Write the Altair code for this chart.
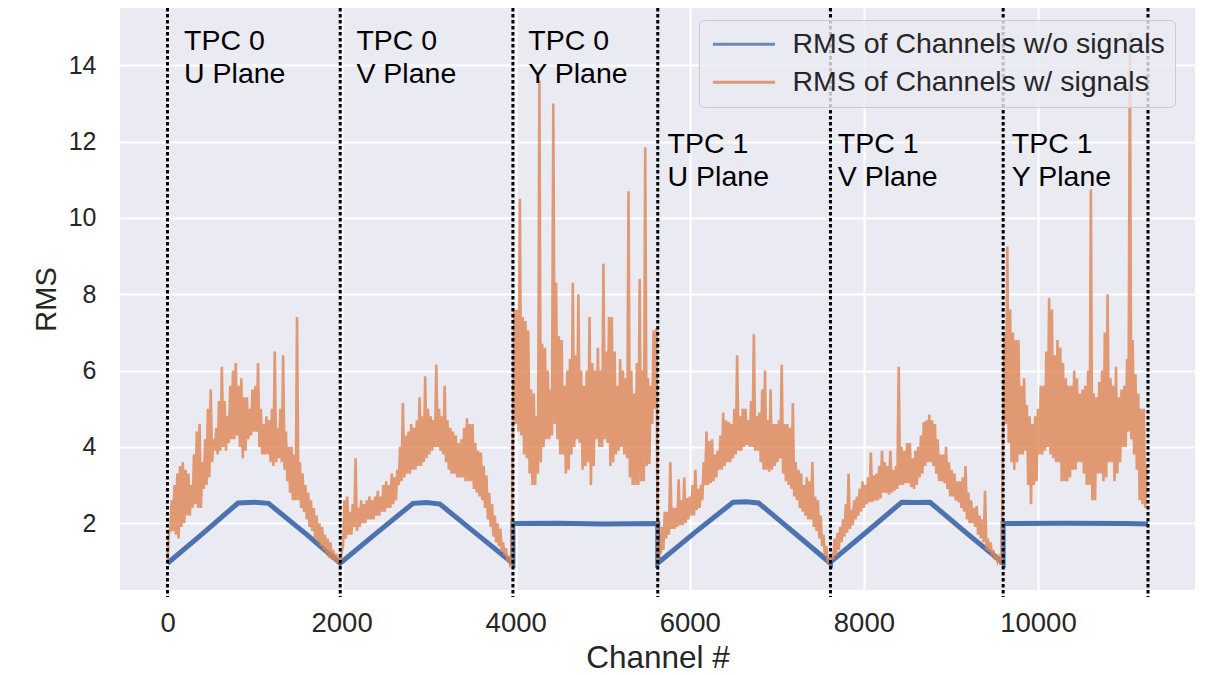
import altair as alt
import pandas as pd

# ---------------- data ----------------
BOUNDS = [0, 1984, 3968, 5632, 7616, 9600, 11264]
TICKS_X = [0, 2000, 4000, 6000, 8000, 10000]
TICKS_Y = [2, 4, 6, 8, 10, 12, 14]

W_O = "RMS of Channels w/o signals"
W = "RMS of Channels w/ signals"

# channels without signals (blue) : vertices
BLUE_CH = [0, 400, 810, 1000, 1160, 1600, 1984,
           1984, 2400, 2820, 2980, 3130, 3550, 3968,
           3968, 4500, 5000, 5632,
           5632, 6060, 6497, 6650, 6790, 7200, 7616,
           7616, 8030, 8434, 8600, 8760, 9180, 9600,
           9600, 10300, 11000, 11264]
BLUE_RMS = [0.95, 1.72, 2.53, 2.55, 2.52, 1.70, 0.95,
            0.95, 1.74, 2.52, 2.54, 2.50, 1.72, 0.95,
            1.99, 2.00, 1.98, 1.99,
            0.95, 1.76, 2.55, 2.56, 2.53, 1.75, 0.95,
            0.98, 1.77, 2.55, 2.54, 2.55, 1.74, 0.95,
            1.99, 2.00, 1.99, 1.98]

# channels with signals (orange): lower / upper envelope per 32-channel bin
T0U_LO = [0.96, 1.8, 1.8, 1.7, 1.6, 1.9, 2.0, 2.2, 2.2, 2.4, 2.5, 2.4, 2.4, 2.9, 3.0, 3.2,
          3.6, 3.9, 3.8, 3.9, 4.0, 3.9, 4.1, 4.2, 4.2, 4.3, 4.0, 3.7, 3.9, 4.2, 4.3, 4.4,
          4.4, 4.0, 3.8, 3.8, 3.8, 3.6, 3.5, 3.6, 3.7, 3.6, 3.4, 3.1, 2.8, 2.6, 2.6, 2.6,
          2.4, 2.3, 2.1, 1.9, 1.8, 1.6, 1.5, 1.4, 1.3, 1.2, 1.1, 1.05, 1.0, 0.95]
T0U_HI = [1.8, 2.6, 3.0, 3.3, 3.5, 3.6, 3.4, 3.3, 3.0, 3.8, 4.4, 4.6, 3.6, 4.2, 5.0, 5.5,
          4.2, 4.5, 5.2, 6.1, 5.2, 4.8, 5.6, 6.0, 6.2, 5.6, 5.8, 5.3, 5.3, 5.0, 5.5, 5.6,
          6.2, 5.0, 4.6, 4.8, 4.7, 5.0, 6.5, 4.5, 5.0, 6.4, 4.4, 4.0, 4.0, 3.8, 7.4, 3.6,
          3.3, 3.0, 2.8, 2.6, 2.4, 2.2, 2.0, 1.9, 1.7, 1.6, 1.5, 1.3, 1.2, 1.1]
T0V_LO = [0.95, 1.4, 1.6, 1.7, 1.7, 1.9, 1.8, 1.9, 2.0, 2.0, 2.1, 2.1, 2.1, 2.2, 2.2, 2.3,
          2.3, 2.4, 2.4, 2.5, 2.6, 3.0, 3.1, 3.2, 3.3, 3.3, 3.4, 3.4, 3.5, 3.5, 3.6, 3.7,
          3.8, 3.9, 4.0, 4.0, 3.9, 3.8, 3.6, 3.4, 3.3, 3.3, 3.2, 3.2, 3.2, 3.1, 3.1, 3.1,
          2.9, 2.8, 2.7, 2.6, 2.4, 2.1, 1.9, 1.65, 1.5, 1.4, 1.25, 1.15, 1.0, 0.92]
T0V_HI = [1.2, 2.6, 2.7, 2.3, 2.5, 3.7, 2.4, 2.6, 2.5, 2.6, 2.7, 2.6, 2.7, 2.85, 2.7, 3.0,
          3.1, 3.0, 3.3, 3.2, 3.4, 4.0, 5.15, 4.3, 4.4, 4.6, 4.5, 4.7, 5.3, 4.8, 5.85, 5.0,
          4.8, 4.7, 6.15, 5.0, 4.8, 5.6, 4.7, 4.5, 4.4, 4.3, 4.1, 4.2, 4.5, 4.75, 4.6, 4.6,
          4.1, 3.9, 3.85, 3.5, 3.25, 2.8, 2.5, 2.2, 2.0, 1.85, 1.5, 1.35, 1.15, 1.0]
T0Y_LO = [4.6, 4.6, 4.4, 4.3, 3.8, 3.7, 3.3, 3.0, 3.0, 3.3, 3.6, 4.0, 4.2, 4.2, 4.3, 4.6,
          4.2, 3.8, 3.8, 3.3, 3.4, 3.8, 4.0, 4.2, 4.1, 3.4, 3.5, 3.6, 3.0, 3.5, 4.2, 4.0,
          4.0, 4.2, 4.1, 3.5, 3.6, 3.8, 3.9, 4.0, 3.8, 3.7, 3.2, 3.0, 3.0, 3.0, 3.1, 3.1,
          3.5, 3.55, 4.6, 5.0]
T0Y_HI = [7.6, 7.6, 10.5, 7.4, 7.3, 7.05, 5.5, 5.4, 4.8, 13.6, 6.7, 6.6, 6.0, 5.5, 13.0, 8.3,
          6.9, 6.8, 5.6, 6.0, 6.3, 8.3, 6.4, 8.0, 6.0, 5.6, 6.0, 7.4, 6.2, 6.0, 6.6, 6.0,
          8.8, 6.5, 7.4, 7.4, 6.5, 5.6, 6.3, 6.0, 5.8, 10.7, 6.0, 5.4, 6.2, 8.4, 6.0, 11.85,
          5.8, 5.6, 7.05, 7.1]
T1U_LO = [0.95, 1.2, 1.3, 1.6, 1.7, 1.85, 1.85, 1.9, 1.95, 1.95, 2.0, 2.1, 2.2, 2.2, 2.35, 2.4,
          2.6, 3.0, 3.0, 3.05, 3.1, 3.2, 3.4, 3.4, 3.5, 3.6, 3.6, 3.7, 3.8, 3.9, 3.9, 4.0,
          4.05, 4.0, 4.0, 3.9, 3.9, 3.6, 3.4, 3.4, 3.35, 3.4, 3.5, 3.6, 3.7, 3.3, 3.1, 3.0,
          2.9, 2.7, 2.6, 2.4, 2.3, 2.2, 2.1, 2.1, 1.9, 1.8, 1.6, 1.4, 1.15, 0.95]
T1U_HI = [1.5, 1.9, 2.3, 2.3, 3.6, 2.4, 2.4, 3.15, 2.6, 3.2, 2.65, 2.7, 3.0, 3.4, 2.9, 3.0,
          3.6, 4.4, 4.15, 4.2, 3.8, 3.9, 4.3, 4.9, 4.7, 4.65, 4.6, 5.0, 6.4, 4.8, 5.0, 5.0,
          4.7, 5.2, 6.95, 4.8, 4.9, 5.5, 6.0, 4.7, 5.5, 4.6, 4.6, 4.7, 6.15, 4.6, 4.6, 4.5,
          5.15, 3.6, 3.4, 3.3, 3.0, 3.2, 3.1, 3.6, 2.7, 2.6, 2.2, 1.7, 1.4, 1.1]
T1V_LO = [0.95, 1.05, 1.15, 1.3, 1.5, 1.65, 1.75, 1.85, 1.95, 2.1, 2.2, 2.3, 2.4, 2.5, 2.55, 2.55,
          2.6, 2.6, 2.65, 2.8, 2.8, 2.75, 2.8, 2.85, 2.9, 3.0, 3.0, 3.05, 3.05, 2.95, 2.9, 3.0,
          3.2, 3.3, 3.5, 3.6, 3.6, 3.5, 3.3, 3.1, 3.1, 3.05, 2.9, 2.7, 2.7, 2.6, 2.55, 2.4,
          2.3, 2.1, 2.0, 2.0, 1.9, 1.7, 1.6, 1.5, 1.3, 1.25, 1.15, 1.05, 1.0, 0.95]
T1V_HI = [1.2, 1.6, 1.75, 1.9, 2.1, 2.5, 3.3, 2.35, 2.6, 2.7, 2.9, 3.1, 3.0, 3.2, 3.85, 3.25,
          3.3, 3.5, 3.9, 3.6, 3.5, 3.9, 3.4, 3.5, 6.1, 4.0, 3.9, 4.1, 4.1, 3.7, 3.9, 4.0,
          4.3, 4.65, 4.7, 4.85, 4.7, 4.6, 4.2, 3.8, 3.8, 4.0, 3.6, 3.4, 3.3, 3.1, 3.1, 3.2,
          3.5, 2.8, 2.6, 2.4, 2.45, 2.2, 2.1, 2.85, 1.6, 1.5, 1.3, 1.2, 1.1, 1.0]
T1Y_LO = [4.6, 4.6, 4.1, 3.6, 3.4, 3.6, 3.8, 3.8, 3.9, 3.0, 2.5, 3.0, 3.1, 3.8, 3.8, 3.9,
          4.0, 3.8, 3.7, 3.6, 3.6, 3.1, 3.1, 3.1, 3.2, 3.4, 3.4, 3.6, 3.6, 3.3, 3.0, 3.0,
          2.6, 2.6, 3.3, 3.3, 3.1, 3.2, 3.6, 3.6, 3.1, 3.3, 3.6, 4.0, 4.0, 4.4, 4.2, 3.8,
          3.4, 2.6, 2.5, 2.4]
T1Y_HI = [7.0, 9.25, 7.6, 7.0, 6.8, 6.8, 5.6, 5.8, 5.1, 4.8, 4.6, 4.8, 5.0, 5.6, 5.6, 6.5,
          7.9, 7.6, 6.4, 6.8, 6.6, 6.2, 5.8, 5.6, 5.6, 6.0, 5.8, 5.4, 5.5, 5.6, 6.0, 10.75,
          5.4, 5.3, 5.7, 6.0, 7.0, 8.0, 5.8, 5.6, 6.1, 5.3, 5.5, 5.6, 6.3, 14.85, 6.8, 5.9,
          5.4, 5.0, 5.0, 3.5]

SEGMENTS = [(T0U_LO, T0U_HI), (T0V_LO, T0V_HI), (T0Y_LO, T0Y_HI),
            (T1U_LO, T1U_HI), (T1V_LO, T1V_HI), (T1Y_LO, T1Y_HI)]

LABEL_X = [190, 2170, 4145, 5745, 7700, 9700]
LABEL_Y = [15.0, 15.0, 15.0, 12.3, 12.3, 12.3]
LABEL_TEXT = ["TPC 0\nU Plane", "TPC 0\nV Plane", "TPC 0\nY Plane",
              "TPC 1\nU Plane", "TPC 1\nV Plane", "TPC 1\nY Plane"]

# ---------------- tables ----------------
blue_df = pd.DataFrame({"channel": BLUE_CH, "rms": BLUE_RMS,
                        "series": W_O, "idx": range(len(BLUE_CH))})

rows = []
k = 0
for s, (lo, hi) in enumerate(SEGMENTS):
    start = BOUNDS[s]
    step = (BOUNDS[s + 1] - start) / len(lo)
    for i in range(len(lo)):
        rows.append({"channel": start + i * step, "rms": lo[i], "series": W, "idx": k}); k += 1
        rows.append({"channel": start + i * step + step / 2, "rms": hi[i], "series": W, "idx": k}); k += 1
orange_df = pd.DataFrame(rows)

bounds_df = pd.DataFrame({"channel": BOUNDS})
labels_df = pd.DataFrame({"x": LABEL_X, "y": LABEL_Y, "text": LABEL_TEXT})

FONT = "Liberation Sans"
xscale = alt.Scale(domain=[-546, 11804], nice=False, zero=False)
yscale = alt.Scale(domain=[0.25, 15.5], nice=False, zero=False)
cscale = alt.Scale(domain=[W_O, W], range=["#4C72B0", "#DD8452"])

xaxis = alt.Axis(values=TICKS_X, format="d", title="Channel #", labelFontSize=27.5,
                 titleFontSize=31.5, labelPadding=19, titlePadding=6, ticks=False,
                 domain=False, gridColor="white", gridWidth=2, labelFont=FONT,
                 titleFont=FONT, labelColor="#262626", titleColor="#262626",
                 titleFontWeight="normal")
yaxis = alt.Axis(values=TICKS_Y, title="RMS", labelFontSize=25, titleFontSize=29,
                 labelPadding=24, titlePadding=7, ticks=False, domain=False,
                 gridColor="white", gridWidth=2, labelFont=FONT, titleFont=FONT,
                 labelColor="#262626", titleColor="#262626", titleFontWeight="normal")

legend = alt.Legend(title=None, orient="none", legendX=579, legendY=12,
                    symbolType="M-1,0H5", symbolSize=428, symbolStrokeWidth=3,
                    labelFontSize=28.5, labelFont=FONT, labelColor="#262626",
                    labelOffset=55, labelLimit=0, fillColor="rgba(234,234,242,0.8)",
                    strokeColor="#CCCCCC", cornerRadius=5, padding=10, rowPadding=9)

blue = alt.Chart(blue_df).mark_line(strokeWidth=5).encode(
    x=alt.X("channel:Q", scale=xscale, axis=xaxis),
    y=alt.Y("rms:Q", scale=yscale, axis=yaxis),
    color=alt.Color("series:N", scale=cscale, legend=legend),
    order="idx:Q",
)
orange = alt.Chart(orange_df).mark_line(strokeWidth=2.6, opacity=0.8).encode(
    x=alt.X("channel:Q", scale=xscale),
    y=alt.Y("rms:Q", scale=yscale),
    color=alt.Color("series:N", scale=cscale, legend=legend),
    order="idx:Q",
)
rules = alt.Chart(bounds_df).mark_rule(color="black", strokeWidth=3,
                                       strokeDash=[3.5, 2.5]).encode(
    x=alt.X("channel:Q", scale=xscale),
    y=alt.value(0), y2=alt.value(589),
)
texts = alt.Chart(labels_df).mark_text(align="left", baseline="top", fontSize=28.5,
                                       font=FONT, color="black", lineBreak="\n",
                                       lineHeight=33).encode(
    x=alt.X("x:Q", scale=xscale),
    y=alt.Y("y:Q", scale=yscale),
    text="text:N",
)

chart = alt.layer(blue, orange, rules, texts).properties(
    width=1075, height=582,
    autosize=alt.AutoSizeParams(type="none"),
    padding={"left": 120, "top": 8, "right": 17, "bottom": 85},
    background="white",
).configure_view(fill="#EAEAF2", strokeWidth=0)

chart.save("out.html", embed_options={"renderer": "svg", "actions": False})
